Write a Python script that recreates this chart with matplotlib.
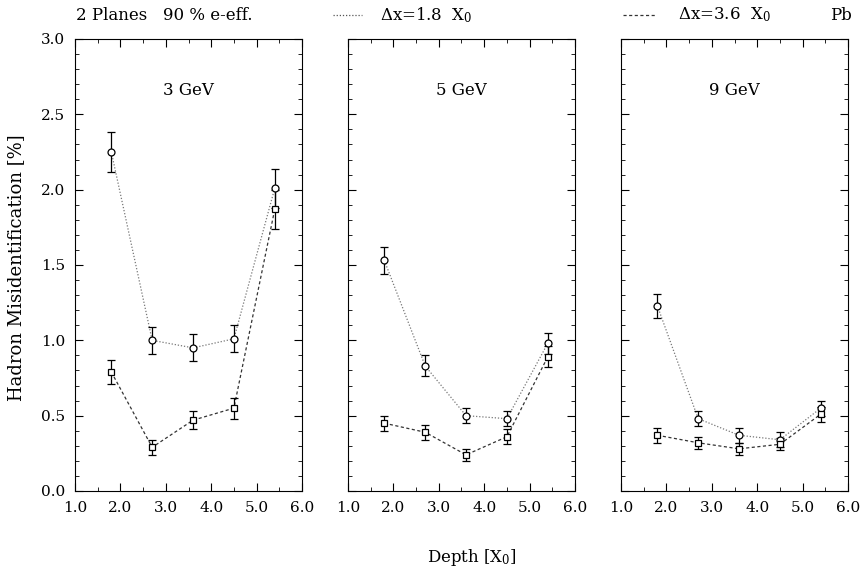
import numpy as np
import matplotlib
matplotlib.use("Agg")
from matplotlib import pyplot as plt
from matplotlib.ticker import MultipleLocator

plt.rcParams['font.family'] = ['DejaVu Serif']
plt.rcParams['mathtext.fontset'] = 'dejavuserif'

depth = [1.8, 2.7, 3.6, 4.5, 5.4]
energies = ["3 GeV", "5 GeV", "9 GeV"]

# dx = 1.8 X0 (circles, dotted)
mis_18 = [
    [2.25, 1.00, 0.95, 1.01, 2.01],
    [1.53, 0.83, 0.50, 0.48, 0.98],
    [1.23, 0.48, 0.37, 0.34, 0.55],
]
err_18 = [
    [0.13, 0.09, 0.09, 0.09, 0.13],
    [0.09, 0.07, 0.05, 0.05, 0.07],
    [0.08, 0.05, 0.05, 0.05, 0.05],
]
# dx = 3.6 X0 (squares, dashed)
mis_36 = [
    [0.79, 0.29, 0.47, 0.55, 1.87],
    [0.45, 0.39, 0.24, 0.36, 0.89],
    [0.37, 0.32, 0.28, 0.31, 0.51],
]
err_36 = [
    [0.08, 0.05, 0.06, 0.07, 0.13],
    [0.05, 0.05, 0.04, 0.05, 0.07],
    [0.05, 0.04, 0.04, 0.04, 0.05],
]

W, H = 862, 570
fig = plt.figure(figsize=(W / 100, H / 100), dpi=100)
lefts = [75, 348, 621]
for i in range(3):
    ax = fig.add_axes([lefts[i] / W, (H - 491) / H, 227 / W, 452 / H])
    ax.errorbar(depth, mis_18[i], yerr=err_18[i], fmt='o', ms=5, mfc='white',
                mec='black', mew=0.9, ecolor='black', elinewidth=0.9,
                capsize=3, capthick=0.9, zorder=3)
    ax.plot(depth, mis_18[i], ls=(0, (1, 1.5)), color='#777777', lw=0.9, zorder=2)
    ax.errorbar(depth, mis_36[i], yerr=err_36[i], fmt='s', ms=4, mfc='white',
                mec='black', mew=0.9, ecolor='black', elinewidth=0.9,
                capsize=3, capthick=0.9, zorder=3)
    ax.plot(depth, mis_36[i], ls=(0, (2.5, 2)), color='#333333', lw=0.9, zorder=2)
    ax.set_xlim(1.0, 6.0)
    ax.set_ylim(0.0, 3.0)
    ax.xaxis.set_major_locator(MultipleLocator(1.0))
    ax.xaxis.set_minor_locator(MultipleLocator(0.5))
    ax.yaxis.set_major_locator(MultipleLocator(0.5))
    ax.yaxis.set_minor_locator(MultipleLocator(0.1))
    ax.tick_params(which='both', direction='in', top=True, right=True, labelsize=11, pad=7)
    ax.tick_params(which='major', length=6)
    ax.tick_params(which='minor', length=3)
    ax.set_xticklabels([f"{v:.1f}" for v in ax.get_xticks()])
    if i == 0:
        ax.set_yticklabels([f"{v:.1f}" for v in ax.get_yticks()])
    else:
        ax.set_yticklabels([])
    ax.text(0.5, 0.885, energies[i], transform=ax.transAxes, ha='center',
            va='center', fontsize=12)

fig.text(16 / W, 1 - 268 / H, "Hadron Misidentification [%]", rotation=90,
         ha='center', va='center', fontsize=13)
fig.text(472 / W, 1 - 557 / H, "Depth [X$_0$]", ha='center', va='center', fontsize=12)

# header legend
ytop = 1 - 15 / H
fig.text(76 / W, ytop, "2 Planes   90 % e-eff.", ha='left', va='center', fontsize=12)
fig.lines.append(plt.Line2D([333 / W, 362 / W], [ytop, ytop], transform=fig.transFigure,
                            ls=(0, (1, 1.5)), color='#555555', lw=0.9))
fig.text(380 / W, ytop, "Δx=1.8  X$_0$", ha='left', va='center', fontsize=12)
fig.lines.append(plt.Line2D([623 / W, 655 / W], [ytop, ytop], transform=fig.transFigure,
                            ls=(0, (2.5, 2)), color='#333333', lw=0.9))
fig.text(678 / W, ytop, "Δx=3.6  X$_0$", ha='left', va='center', fontsize=12)
fig.text(830 / W, ytop, "Pb", ha='left', va='center', fontsize=12)

fig.savefig("out.png", dpi=100)
